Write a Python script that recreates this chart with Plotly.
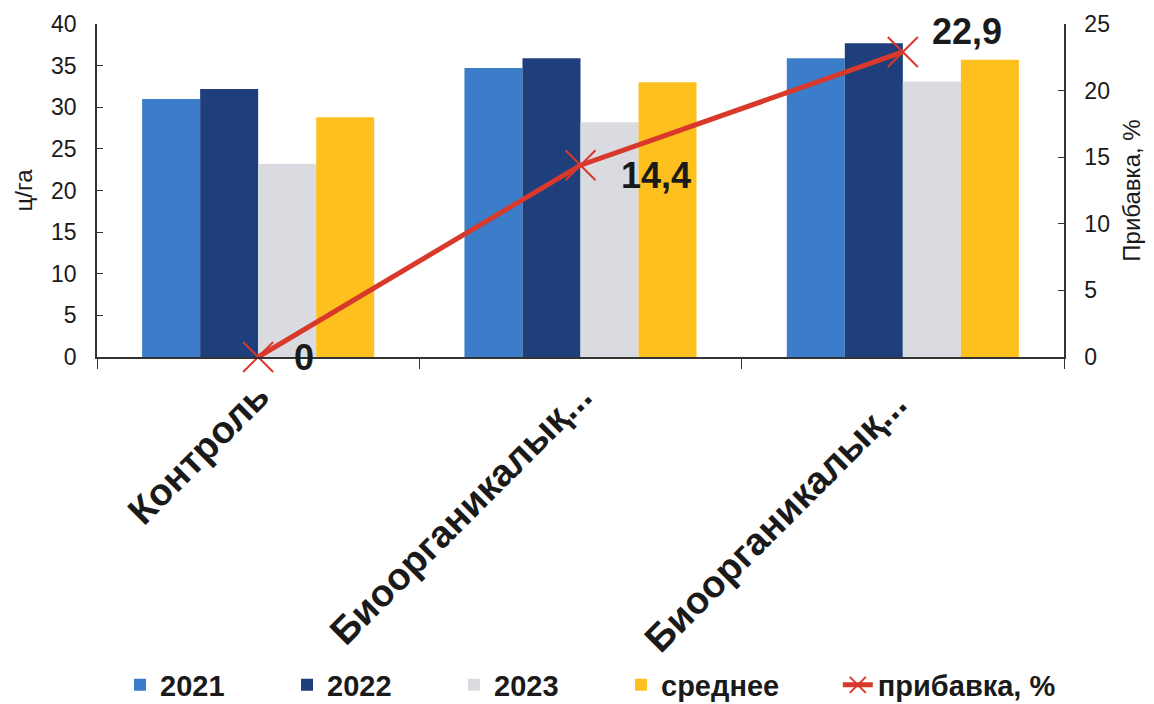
import plotly.graph_objects as go

# Варианты опыта и урожайность по годам, ц/га
categories = ["Контроль", "Биоорганикалық...", "Биоорганикалық... "]
y2021 = [31.0, 34.7, 35.9]
y2022 = [32.2, 35.9, 37.7]
y2023 = [23.2, 28.2, 33.1]
y_mean = [28.8, 33.0, 35.7]
# Прибавка к контролю, %
gain = [0, 14.4, 22.9]
gain_labels = ["0", "14,4", "22,9"]
# смещение подписей прибавки относительно точек, px
label_dx = [34, 38, 27]
label_dy = [0, -10, 20]

FONT = "Liberation Sans, Arial, sans-serif"
RED = "#d8392b"
LEGEND_FONT = dict(family=FONT, size=29, weight="bold")

fig = go.Figure()
bar_series = [
    ("2021", y2021, "#3b7dc8"),
    ("2022", y2022, "#1e3f7b"),
    ("2023", y2023, "#d9dbe0"),
    ("среднее", y_mean, "#fdc01f"),
]
for name, vals, color in bar_series:
    fig.add_trace(go.Bar(x=categories, y=vals, name=name, legend="legend",
                         marker=dict(color=color, line=dict(width=0))))

fig.add_trace(go.Scatter(
    x=categories, y=gain, name="прибавка, %", yaxis="y2", legend="legend2",
    mode="lines+markers",
    line=dict(color=RED, width=5),
    marker=dict(symbol="x-thin", size=30, color=RED,
                line=dict(color=RED, width=2)),
    cliponaxis=False,
))

for cat, val, lab, dx, dy in zip(categories, gain, gain_labels, label_dx, label_dy):
    fig.add_annotation(x=cat, y=val, xref="x", yref="y2", text=lab,
                       showarrow=False, xanchor="left", yanchor="middle",
                       xshift=dx, yshift=dy,
                       font=dict(family=FONT, size=36, color="#1a1a1a", weight="bold"))

fig.update_layout(
    width=1154, height=704,
    margin=dict(l=97, r=90, t=24, b=347),
    paper_bgcolor="white", plot_bgcolor="white",
    barmode="group", bargap=0.28, bargroupgap=0,
    font=dict(family=FONT, color="#1a1a1a"),
    showlegend=True,
    legend=dict(orientation="h", x=0.104, xanchor="left",
                y=0.027, yanchor="middle", yref="container", xref="container",
                font=LEGEND_FONT, entrywidth=122, traceorder="normal"),
    legend2=dict(orientation="h", x=0.726, xanchor="left",
                 y=0.027, yanchor="middle", yref="container", xref="container",
                 font=LEGEND_FONT),
    xaxis=dict(type="category", showline=True, linecolor="#333333", linewidth=1.5,
               ticks="outside", tickson="boundaries", ticklen=10,
               tickcolor="#333333", tickangle=-45, automargin=False,
               tickfont=dict(family=FONT, size=38, weight="bold"),
               showgrid=False, zeroline=False),
    yaxis=dict(range=[0, 40], dtick=5, showline=True, linecolor="#333333",
               linewidth=1.5, ticks="inside", ticklen=6, tickcolor="#333333",
               tickfont=dict(family=FONT, size=23), automargin=False,
               ticklabelstandoff=14,
               title=dict(text="ц/га", font=dict(family=FONT, size=24), standoff=12),
               showgrid=False, zeroline=False),
    yaxis2=dict(range=[0, 25], dtick=5, overlaying="y", side="right",
                showline=True, linecolor="#333333", linewidth=1.5,
                ticks="inside", ticklen=6, tickcolor="#333333",
                tickfont=dict(family=FONT, size=23), automargin=False,
                ticklabelstandoff=14,
                title=dict(text="Прибавка, %", font=dict(family=FONT, size=24), standoff=14),
                showgrid=False, zeroline=False),
)

fig.write_html("out.html")
